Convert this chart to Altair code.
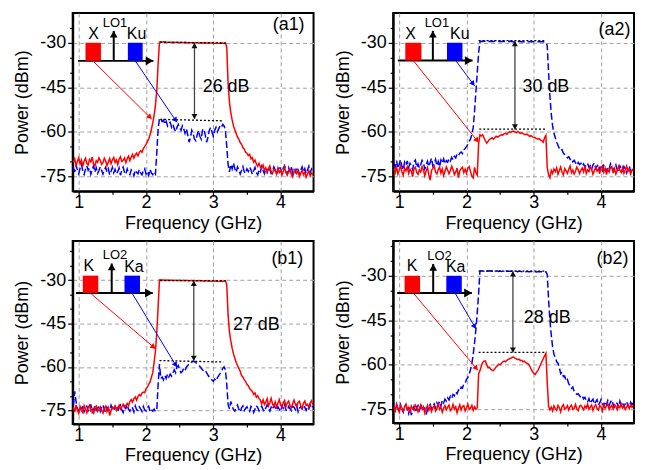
import math
import altair as alt
import pandas as pd

FONT = "Liberation Sans"
RED = "#ff0000"
BLUE = "#0000ff"

freq = [
    0.92, 0.94, 0.96, 0.98, 1.00, 1.02, 1.04, 1.06, 1.08, 1.10,
    1.12, 1.14, 1.16, 1.18, 1.20, 1.22, 1.24, 1.26, 1.28, 1.30,
    1.32, 1.34, 1.36, 1.38, 1.40, 1.42, 1.44, 1.46, 1.48, 1.50,
    1.52, 1.54, 1.56, 1.58, 1.60, 1.62, 1.64, 1.66, 1.68, 1.70,
    1.72, 1.74, 1.76, 1.78, 1.80, 1.82, 1.84, 1.86, 1.88, 1.90,
    1.92, 1.94, 1.96, 1.98, 2.00, 2.02, 2.04, 2.06, 2.08, 2.10,
    2.12, 2.14, 2.16, 2.18, 2.20, 2.22, 2.24, 2.26, 2.28, 2.30,
    2.32, 2.34, 2.36, 2.38, 2.40, 2.42, 2.44, 2.46, 2.48, 2.50,
    2.52, 2.54, 2.56, 2.58, 2.60, 2.62, 2.64, 2.66, 2.68, 2.70,
    2.72, 2.74, 2.76, 2.78, 2.80, 2.82, 2.84, 2.86, 2.88, 2.90,
    2.92, 2.94, 2.96, 2.98, 3.00, 3.02, 3.04, 3.06, 3.08, 3.10,
    3.12, 3.14, 3.16, 3.18, 3.20, 3.22, 3.24, 3.26, 3.28, 3.30,
    3.32, 3.34, 3.36, 3.38, 3.40, 3.42, 3.44, 3.46, 3.48, 3.50,
    3.52, 3.54, 3.56, 3.58, 3.60, 3.62, 3.64, 3.66, 3.68, 3.70,
    3.72, 3.74, 3.76, 3.78, 3.80, 3.82, 3.84, 3.86, 3.88, 3.90,
    3.92, 3.94, 3.96, 3.98, 4.00, 4.02, 4.04, 4.06, 4.08, 4.10,
    4.12, 4.14, 4.16, 4.18, 4.20, 4.22, 4.24, 4.26, 4.28, 4.30,
    4.32, 4.34, 4.36, 4.38, 4.40, 4.42, 4.44, 4.46, 4.48,
]

a1_red = [
    -70.2, -69.1, -71.3, -70.0, -68.7, -70.8, -69.5, -71.6, -69.9, -68.9,
    -70.6, -71.2, -69.3, -70.1, -68.5, -70.9, -71.5, -69.7, -70.3, -68.8,
    -69.6, -71.0, -70.4, -68.9, -69.8, -71.4, -70.2, -69.0, -70.7, -69.4,
    -68.6, -70.3, -69.5, -71.1, -69.2, -68.4, -70.0, -69.6, -68.8, -70.4,
    -69.0, -68.2, -69.7, -68.5, -67.6, -68.9, -67.8, -67.2, -68.1, -66.9,
    -66.4, -66.9, -65.6, -65.0, -64.2, -63.3, -62.4, -61.0, -59.2, -57.0,
    -54.5, -51.0, -46.0, -37.0, -29.8, -29.7, -29.8, -29.7, -29.8, -29.8,
    -29.8, -29.9, -29.8, -29.8, -29.9, -29.8, -29.9, -29.9, -29.8, -29.9,
    -29.9, -29.9, -30.0, -29.9, -29.9, -30.0, -29.9, -30.0, -30.0, -29.9,
    -30.0, -30.0, -30.0, -30.1, -30.0, -30.0, -30.1, -30.0, -30.1, -30.1,
    -30.1, -30.0, -30.1, -30.1, -30.1, -30.2, -30.1, -30.1, -30.2, -30.1,
    -30.2, -30.1, -30.2, -30.0, -31.5, -44.0, -50.0, -53.5, -56.0, -58.0,
    -59.3, -60.6, -61.8, -62.5, -63.6, -64.2, -65.3, -65.8, -66.9, -67.2,
    -68.0, -67.6, -69.1, -68.7, -70.2, -69.5, -70.8, -71.6, -70.6, -71.9,
    -72.3, -71.2, -73.0, -72.1, -73.6, -72.4, -71.5, -73.3, -74.0, -72.6,
    -73.1, -74.2, -72.2, -73.7, -72.9, -74.5, -73.4, -71.9, -73.8, -74.6,
    -73.0, -72.4, -74.3, -75.2, -73.5, -72.8, -74.1, -73.2, -75.0, -74.0,
    -72.9, -74.4, -73.6, -75.3, -74.2, -73.1, -74.8, -73.9, -74.5,
]

a1_blue = [
    -72.0, -73.5, -71.2, -72.8, -74.1, -72.3, -71.0, -73.2, -74.4, -72.6,
    -71.5, -73.0, -72.2, -74.3, -72.8, -71.4, -73.6, -72.1, -74.0, -73.1,
    -71.8, -72.9, -74.2, -73.0, -71.9, -73.5, -72.4, -74.5, -73.3, -72.0,
    -73.8, -72.6, -74.1, -73.4, -72.2, -74.6, -73.0, -71.9, -73.7, -74.3,
    -72.5, -73.9, -74.4, -72.8, -73.4, -74.8, -72.9, -73.6, -74.1, -72.7,
    -73.8, -74.5, -73.1, -72.4, -74.2, -73.3, -74.7, -72.6, -73.9, -74.4,
    -73.4, -74.2, -67.0, -59.0, -55.5, -55.8, -56.5, -56.0, -57.5, -56.5,
    -58.0, -57.0, -56.8, -58.5, -57.5, -59.0, -60.0, -58.5, -57.5, -58.5,
    -59.5, -58.0, -59.0, -60.5, -59.0, -61.0, -63.5, -62.0, -59.5, -60.5,
    -62.5, -63.0, -61.0, -59.5, -61.5, -62.5, -59.5, -59.0, -61.0, -63.5,
    -62.0, -59.5, -58.5, -60.0, -61.5, -59.5, -58.5, -60.0, -59.0, -58.0,
    -58.5, -57.5, -58.0, -59.5, -65.0, -71.0, -73.5, -71.0, -72.5, -70.5,
    -72.4, -73.6, -71.8, -72.9, -74.2, -73.0, -71.7, -73.4, -74.0, -72.5,
    -73.3, -71.9, -72.8, -74.3, -73.1, -72.0, -73.8, -74.5, -72.7, -73.4,
    -71.6, -73.0, -74.1, -72.4, -73.6, -71.9, -72.8, -74.0, -73.2, -71.8,
    -72.9, -74.2, -73.1, -71.5, -72.6, -73.9, -72.2, -71.4, -73.5, -74.3,
    -72.1, -73.4, -71.7, -74.0, -72.8, -73.6, -71.9, -72.7, -74.2, -73.0,
    -71.8, -73.5, -72.4, -74.1, -72.9, -71.6, -73.8, -72.5, -73.3,
]

a2_red = [
    -72.5, -73.8, -71.6, -74.2, -72.9, -71.4, -73.5, -74.6, -72.2, -73.1,
    -71.8, -74.0, -72.6, -73.3, -75.1, -72.4, -71.9, -73.7, -74.3, -72.8,
    -73.5, -71.7, -72.9, -74.8, -73.2, -72.0, -74.5, -76.3, -73.0, -72.3,
    -71.5, -73.6, -74.2, -72.7, -71.9, -73.9, -72.5, -74.7, -73.3, -71.8,
    -72.9, -74.1, -73.0, -71.6, -72.8, -74.4, -73.5, -72.2, -75.4, -73.1,
    -72.4, -71.9, -73.7, -72.6, -74.0, -72.3, -71.7, -73.4, -74.9, -75.5,
    -72.0, -73.8, -74.6, -64.0, -61.0, -61.4, -61.0, -62.0, -63.0, -63.8,
    -63.2, -62.6, -62.3, -62.0, -62.5, -62.0, -61.5, -61.8, -61.5, -61.2,
    -61.0, -61.1, -60.6, -60.5, -60.8, -60.3, -60.0, -60.2, -59.8, -59.8,
    -60.0, -60.3, -59.9, -60.2, -60.5, -60.3, -60.6, -60.8, -61.0, -60.8,
    -61.2, -61.5, -61.3, -61.7, -61.8, -62.0, -62.3, -62.5, -62.3, -62.8,
    -63.0, -63.5, -62.0, -61.2, -72.0, -74.5, -75.5, -73.0, -74.0, -72.5,
    -73.4, -72.1, -74.3, -73.0, -71.8, -73.6, -74.5, -72.4, -73.1, -74.0,
    -72.6, -71.5, -73.8, -72.9, -74.2, -73.3, -71.9, -72.7, -74.1, -73.0,
    -72.2, -73.5, -71.6, -74.0, -72.8, -73.4, -71.8, -72.6, -74.3, -73.1,
    -71.9, -73.2, -72.5, -74.1, -72.0, -71.4, -73.6, -72.3, -74.4, -72.8,
    -73.5, -72.0, -71.7, -73.9, -72.4, -74.2, -73.0, -71.6, -72.9, -73.7,
    -72.1, -74.0, -72.8, -71.5, -73.3, -72.6, -74.2, -73.0, -72.4,
]

a2_blue = [
    -70.5, -71.8, -69.7, -72.3, -70.9, -69.4, -71.6, -72.8, -70.2, -71.3,
    -69.8, -72.0, -70.6, -71.4, -72.7, -70.1, -69.5, -71.9, -70.8, -72.2,
    -71.0, -69.6, -70.4, -72.5, -71.2, -69.9, -71.7, -70.3, -68.9, -71.5,
    -70.7, -69.3, -71.4, -70.0, -71.8, -69.5, -70.5, -69.1, -70.8, -69.7,
    -70.2, -69.0, -69.8, -68.6, -69.4, -68.2, -68.8, -67.5, -68.0, -67.2,
    -66.8, -67.3, -66.0, -65.6, -65.0, -64.2, -63.2, -62.4, -60.8, -58.5,
    -53.0, -46.5, -40.0, -33.5, -29.6, -29.5, -29.6, -29.5, -29.5, -29.6,
    -29.5, -29.6, -29.5, -29.6, -29.6, -29.5, -29.6, -29.6, -29.5, -29.6,
    -29.6, -29.6, -29.5, -29.6, -29.6, -29.6, -29.5, -29.6, -29.6, -29.7,
    -29.6, -29.6, -29.7, -29.6, -29.6, -29.7, -29.6, -29.7, -29.6, -29.7,
    -29.7, -29.6, -29.7, -29.7, -29.6, -29.7, -29.7, -29.7, -29.6, -29.7,
    -29.7, -29.7, -29.7, -29.8, -31.0, -40.0, -48.0, -54.0, -58.0, -60.5,
    -62.0, -63.5, -64.5, -65.6, -66.3, -66.0, -67.2, -67.6, -68.1, -68.8,
    -68.4, -69.3, -69.0, -70.1, -69.6, -70.4, -71.2, -70.3, -71.0, -70.6,
    -71.5, -70.8, -71.9, -71.2, -70.6, -72.0, -71.4, -72.6, -71.1, -70.5,
    -72.3, -71.6, -70.9, -72.8, -71.7, -73.0, -71.3, -72.1, -73.4, -71.8,
    -72.5, -70.8, -71.9, -73.2, -72.0, -71.1, -72.9, -73.6, -71.5, -72.4,
    -73.1, -71.7, -72.6, -73.8, -72.2, -71.4, -73.3, -72.8, -73.5,
]

b1_red = [
    -74.0, -75.6, -73.2, -74.8, -76.1, -73.7, -74.9, -75.8, -73.4, -74.5,
    -75.9, -74.1, -73.3, -75.2, -74.6, -76.3, -74.0, -73.5, -75.4, -74.7,
    -73.8, -75.0, -76.0, -74.3, -73.6, -75.5, -74.2, -76.8, -75.1, -73.9,
    -74.4, -73.5, -75.0, -74.1, -73.2, -74.6, -73.8, -72.9, -74.0, -73.3,
    -72.6, -73.4, -72.0, -71.3, -72.2, -71.0, -70.4, -71.5, -70.2, -69.6,
    -70.0, -69.0, -68.7, -68.9, -67.5, -67.0, -66.0, -65.2, -63.6, -62.0,
    -58.5, -54.5, -48.0, -39.0, -29.9, -29.8, -29.9, -29.9, -30.0, -29.9,
    -30.0, -29.9, -30.0, -30.0, -30.0, -30.1, -30.0, -30.0, -30.1, -30.0,
    -30.1, -30.1, -30.0, -30.1, -30.1, -30.1, -30.2, -30.1, -30.1, -30.2,
    -30.1, -30.2, -30.2, -30.1, -30.2, -30.2, -30.2, -30.3, -30.2, -30.2,
    -30.3, -30.2, -30.3, -30.3, -30.2, -30.3, -30.3, -30.3, -30.4, -30.3,
    -30.3, -30.4, -30.3, -30.2, -31.5, -42.0, -48.0, -51.0, -53.5, -55.5,
    -57.0, -58.5, -59.5, -60.5, -61.5, -63.0, -63.5, -64.5, -65.0, -66.0,
    -66.5, -67.5, -68.0, -68.5, -69.5, -69.0, -70.5, -70.0, -71.0, -71.5,
    -72.8, -71.4, -73.0, -72.2, -71.0, -73.5, -72.4, -70.9, -72.8, -73.6,
    -72.1, -73.9, -72.6, -71.3, -73.2, -74.0, -72.3, -71.6, -73.7, -72.5,
    -71.8, -73.4, -74.1, -72.7, -71.5, -73.0, -73.8, -72.2, -71.9, -73.5,
    -74.2, -72.6, -71.8, -73.3, -72.9, -74.0, -72.4, -71.7, -73.1,
]

b1_blue = [
    -73.5, -68.5, -72.0, -74.6, -75.3, -73.8, -74.9, -73.2, -75.5, -74.1,
    -73.6, -75.2, -74.4, -73.0, -75.6, -74.7, -73.4, -75.0, -74.3, -73.7,
    -75.4, -74.0, -73.1, -74.8, -75.7, -73.9, -74.5, -75.1, -73.3, -74.6,
    -75.2, -73.7, -74.3, -75.5, -74.0, -73.2, -74.9, -75.8, -73.6, -74.4,
    -73.1, -74.7, -75.3, -73.9, -74.2, -75.6, -73.5, -74.8, -75.0, -73.8,
    -74.5, -75.4, -73.7, -74.9, -75.2, -74.1, -73.6, -75.5, -74.8, -75.3,
    -74.6, -75.4, -75.0, -66.0, -59.0, -64.0, -63.5, -64.5, -63.0, -64.0,
    -62.5, -63.5, -62.5, -63.2, -62.0, -61.0, -62.0, -60.0, -59.5, -61.0,
    -62.0, -61.5, -60.5, -61.2, -60.0, -59.5, -59.0, -58.8, -58.3, -58.0,
    -58.2, -58.5, -59.0, -59.3, -59.8, -60.5, -61.0, -61.5, -61.2, -62.0,
    -62.8, -63.5, -64.0, -64.5, -65.0, -64.2, -64.8, -63.8, -63.0, -62.3,
    -61.5, -60.5, -60.0, -61.0, -66.0, -73.0, -74.5, -72.0, -73.5, -74.8,
    -75.3, -74.0, -73.2, -74.7, -75.6, -74.2, -73.5, -75.1, -74.4, -73.8,
    -74.9, -75.4, -73.7, -74.3, -75.8, -74.6, -73.4, -74.1, -75.2, -74.0,
    -73.6, -74.8, -75.5, -74.2, -73.1, -74.5, -75.3, -73.9, -74.7, -73.3,
    -74.1, -75.0, -73.8, -74.6, -75.4, -73.5, -74.3, -73.0, -74.9, -75.2,
    -73.7, -74.4, -75.1, -73.6, -74.0, -74.8, -73.4, -75.5, -74.2, -73.9,
    -74.6, -73.2, -74.0, -75.0, -73.8, -74.5, -73.1, -74.3, -73.6,
]

b2_red = [
    -74.2, -75.5, -73.4, -74.9, -76.0, -73.8, -74.6, -75.7, -74.0, -73.3,
    -75.2, -74.4, -76.1, -73.9, -74.8, -75.4, -73.6, -74.3, -75.9, -74.7,
    -73.5, -75.0, -74.2, -76.3, -74.9, -73.7, -75.3, -74.1, -75.8, -74.5,
    -73.9, -75.6, -74.8, -73.2, -75.1, -74.4, -76.0, -74.6, -73.8, -75.2,
    -74.3, -73.6, -75.5, -74.9, -73.4, -75.0, -74.2, -76.2, -74.7, -73.5,
    -75.3, -74.1, -73.8, -75.6, -74.5, -73.3, -75.1, -74.6, -73.7, -75.4,
    -74.2, -75.0, -74.5, -63.0, -62.0, -60.5, -59.2, -58.8, -58.7, -60.0,
    -61.0, -60.8, -61.5, -61.8, -62.0, -61.4, -60.8, -60.3, -59.8, -60.0,
    -59.5, -59.0, -58.8, -59.0, -58.5, -58.2, -58.0, -57.8, -57.5, -57.4,
    -57.8, -58.0, -58.3, -58.1, -58.6, -58.5, -59.0, -58.8, -59.3, -59.5,
    -59.8, -60.5, -61.5, -62.3, -62.9, -63.3, -62.6, -62.0, -61.0, -60.0,
    -59.0, -58.0, -57.0, -56.2, -66.0, -74.0, -75.2, -74.3, -75.6, -73.9,
    -74.8, -75.4, -73.7, -74.5, -75.9, -74.1, -73.5, -75.0, -74.6, -73.8,
    -75.3, -74.2, -73.6, -75.1, -74.7, -73.4, -74.9, -75.5, -74.0, -73.7,
    -74.4, -75.2, -73.9, -74.6, -73.3, -75.0, -74.3, -73.6, -75.4, -74.1,
    -73.5, -74.8, -75.3, -73.8, -74.2, -75.6, -73.4, -74.7, -74.0, -73.2,
    -75.1, -74.3, -73.7, -74.9, -73.5, -74.0, -75.2, -73.8, -74.5, -73.3,
    -74.6, -73.9, -75.0, -74.2, -73.4, -74.8, -73.6, -74.4, -73.8,
]

b2_blue = [
    -74.0, -75.3, -73.2, -74.6, -75.8, -73.5, -74.9, -76.0, -74.3, -73.6,
    -75.2, -76.5, -74.4, -77.0, -75.6, -74.1, -75.9, -74.7, -73.8, -75.4,
    -74.2, -73.5, -75.0, -74.6, -76.8, -75.3, -74.0, -73.4, -74.8, -73.9,
    -73.2, -74.5, -72.8, -73.6, -72.4, -73.9, -72.1, -72.9, -71.6, -72.3,
    -71.2, -71.9, -70.6, -71.3, -70.0, -70.5, -69.2, -69.8, -68.5, -68.9,
    -67.6, -67.9, -66.5, -66.2, -65.0, -64.3, -63.2, -61.6, -59.5, -56.5,
    -52.5, -48.0, -42.5, -36.0, -28.4, -28.3, -28.4, -28.3, -28.4, -28.4,
    -28.4, -28.3, -28.4, -28.4, -28.4, -28.5, -28.4, -28.4, -28.5, -28.4,
    -28.5, -28.4, -28.5, -28.5, -28.4, -28.5, -28.5, -28.5, -28.4, -28.5,
    -28.5, -28.5, -28.6, -28.5, -28.5, -28.6, -28.5, -28.6, -28.6, -28.5,
    -28.6, -28.6, -28.5, -28.6, -28.6, -28.6, -28.7, -28.6, -28.6, -28.6,
    -28.6, -28.7, -28.6, -28.7, -29.5, -38.0, -45.0, -50.0, -54.0, -56.5,
    -57.5, -59.0, -59.5, -61.0, -63.0, -62.5, -64.0, -63.8, -65.5, -65.0,
    -66.5, -67.0, -68.0, -67.5, -69.0, -69.5, -70.0, -69.8, -70.5, -71.0,
    -70.5, -71.5, -71.0, -72.0, -72.6, -71.4, -73.0, -72.2, -71.6, -73.3,
    -72.5, -71.8, -73.6, -72.9, -71.7, -73.1, -74.0, -72.4, -73.5, -72.1,
    -73.8, -72.6, -71.9, -73.4, -74.2, -72.8, -73.0, -74.5, -72.3, -73.7,
    -72.9, -74.1, -73.2, -72.4, -73.9, -74.6, -72.7, -73.5, -72.2,
]

XDOM = [0.91, 4.49]
XTICKS = [1, 1.5, 2, 2.5, 3, 3.5, 4]
YTICKS = [-80, -75, -70, -65, -60, -55, -50, -45, -40, -35, -30, -25, -20]
W = 242

panels = {
    "a1": dict(
        ydom=[-80, -20], h=179, red=a1_red, blue=a1_blue,
        axis_arrow=[0.99, 2.11, -36.1],
        red_box=[1.10, 1.33, -30.0, -36.1],
        blue_box=[1.73, 1.95, -30.0, -36.1],
        lo=[1.52, -36.1, -26.0],
        labels=[("X", 1.22, -26.9, 16), ("LO1", 1.54, -23.4, 13), ("Ku", 1.86, -26.9, 16)],
        red_ptr=[1.21, -36.1, 2.085, -55.7],
        blue_ptr=[1.84, -36.1, 2.46, -56.8],
        dots=[[2.21, -29.8, 3.18, -30.1], [2.21, -55.8, 3.15, -56.3]],
        gap=[2.72, -30.1, -55.7],
        gap_text=["26 dB", 3.19, -45.0],
        tag=["(a1)", 4.12, -24.0],
    ),
    "a2": dict(
        ydom=[-80, -20], h=179, red=a2_red, blue=a2_blue,
        axis_arrow=[0.98, 2.09, -36.0],
        red_box=[1.09, 1.33, -30.0, -36.0],
        blue_box=[1.71, 1.94, -30.0, -36.0],
        lo=[1.50, -36.0, -26.0],
        labels=[("X", 1.17, -26.9, 16), ("LO1", 1.56, -23.4, 13), ("Ku", 1.90, -26.9, 16)],
        red_ptr=[1.21, -36.0, 2.18, -63.6],
        blue_ptr=[1.84, -36.0, 2.12, -44.5],
        dots=[[2.18, -29.3, 3.17, -29.3], [2.19, -59.1, 3.17, -59.1]],
        gap=[2.72, -29.4, -59.2],
        gap_text=["30 dB", 3.18, -45.0],
        tag=["(a2)", 4.2, -25.6],
    ),
    "b1": dict(
        ydom=[-79.8, -16.4], h=184, red=b1_red, blue=b1_blue,
        axis_arrow=[0.96, 2.10, -34.4],
        red_box=[1.06, 1.29, -28.4, -34.4],
        blue_box=[1.68, 1.91, -28.4, -34.4],
        lo=[1.49, -34.4, -24.2],
        labels=[("K", 1.15, -25.2, 16), ("LO2", 1.54, -21.4, 13), ("Ka", 1.82, -25.4, 16)],
        red_ptr=[1.17, -34.4, 2.14, -53.7],
        blue_ptr=[1.79, -34.4, 2.46, -60.1],
        dots=[[2.21, -30.1, 3.18, -30.1], [2.20, -57.8, 3.15, -58.3]],
        gap=[2.71, -30.2, -57.9],
        gap_text=["27 dB", 3.64, -45.4],
        tag=["(b1)", 4.1, -22.6],
    ),
    "b2": dict(
        ydom=[-79.7, -18.25], h=183, red=b2_red, blue=b2_blue,
        axis_arrow=[0.97, 2.08, -35.8],
        red_box=[1.08, 1.31, -30.0, -35.8],
        blue_box=[1.70, 1.93, -30.0, -35.8],
        lo=[1.505, -35.8, -26.0],
        labels=[("K", 1.19, -26.8, 16), ("LO2", 1.6, -23.3, 13), ("Ka", 1.84, -27.0, 16)],
        red_ptr=[1.21, -35.8, 2.17, -61.9],
        blue_ptr=[1.83, -35.8, 2.14, -47.9],
        dots=[[2.18, -28.4, 3.19, -28.4], [2.18, -55.8, 3.19, -55.8]],
        gap=[2.69, -28.5, -55.9],
        gap_text=["28 dB", 3.2, -44.3],
        tag=["(b2)", 4.17, -24.4],
    ),
}


def build(p):
    xs = alt.Scale(domain=XDOM, nice=False, zero=False)
    ys = alt.Scale(domain=p["ydom"], nice=False, zero=False)
    kx = W / (XDOM[1] - XDOM[0])
    ky = p["h"] / (p["ydom"][1] - p["ydom"][0])
    yvals = [v for v in YTICKS if p["ydom"][0] + 1 <= v <= p["ydom"][1] - 1]
    xax = alt.Axis(
        values=XTICKS, title="Frequency (GHz)",
        labelExpr="datum.value % 1 === 0 ? '' + datum.value : ''",
        tickSize={"condition": {"test": "datum.value % 1 === 0", "value": 5}, "value": 3},
        gridOpacity={"condition": {"test": "datum.value % 1 === 0", "value": 1}, "value": 0},
    )
    yax = alt.Axis(
        values=yvals, title="Power (dBm)",
        labelExpr="datum.value % 15 === 0 ? '-' + abs(datum.value) : ''",
        tickSize={"condition": {"test": "datum.value % 15 === 0", "value": 5}, "value": 3},
        gridOpacity={"condition": {"test": "datum.value % 15 === 0", "value": 1}, "value": 0},
    )

    def X(f):
        return alt.X(f, type="quantitative", scale=xs, axis=xax)

    def Y(f):
        return alt.Y(f, type="quantitative", scale=ys, axis=yax)

    tr = pd.DataFrame({"f": freq, "red": p["red"], "blue": p["blue"]})
    blue = alt.Chart(tr).mark_line(color=BLUE, strokeWidth=1.5, strokeDash=[7, 3]).encode(x=X("f"), y=Y("blue"))
    red = alt.Chart(tr).mark_line(color=RED, strokeWidth=1.5).encode(x=X("f"), y=Y("red"))

    ax0, ax1, ay = p["axis_arrow"]
    lx, ly0, ly1 = p["lo"]
    rp = p["red_ptr"]
    bp = p["blue_ptr"]
    gx, gy0, gy1 = p["gap"]
    rules = pd.DataFrame([
        dict(x=ax0, y=ay, x2=ax1, y2=ay, c="black", w=2.0),
        dict(x=lx, y=ly0, x2=lx, y2=ly1, c="black", w=2.0),
        dict(x=rp[0], y=rp[1], x2=rp[2], y2=rp[3], c=RED, w=1.0),
        dict(x=bp[0], y=bp[1], x2=bp[2], y2=bp[3], c=BLUE, w=1.0),
        dict(x=gx, y=gy0, x2=gx, y2=gy1, c="#444444", w=1.3),
    ])
    rule_l = alt.Chart(rules).mark_rule().encode(
        x=X("x"), y=Y("y"), x2="x2:Q", y2="y2:Q",
        color=alt.Color("c:N", scale=None), strokeWidth=alt.StrokeWidth("w:Q", scale=None),
    )
    dots = pd.DataFrame([dict(x=d[0], y=d[1], x2=d[2], y2=d[3]) for d in p["dots"]])
    dot_l = alt.Chart(dots).mark_rule(color="black", strokeWidth=1.3, strokeDash=[2, 2]).encode(
        x=X("x"), y=Y("y"), x2="x2:Q", y2="y2:Q"
    )
    boxes = pd.DataFrame([
        dict(x=p["red_box"][0], x2=p["red_box"][1], y=p["red_box"][2], y2=p["red_box"][3], c=RED),
        dict(x=p["blue_box"][0], x2=p["blue_box"][1], y=p["blue_box"][2], y2=p["blue_box"][3], c=BLUE),
    ])
    box_l = alt.Chart(boxes).mark_rect().encode(
        x=X("x"), x2="x2:Q", y=Y("y"), y2="y2:Q", color=alt.Color("c:N", scale=None)
    )

    def head(x0, y0, x1, y1, size, color):
        dxp = (x1 - x0) * kx
        dyp = -(y1 - y0) * ky
        L = math.hypot(dxp, dyp)
        ux, uy = dxp / L, dyp / L
        h = 0.866 * math.sqrt(size) / 2
        return dict(
            x=x1 - h * ux / kx, y=y1 + h * uy / ky,
            ang=math.degrees(math.atan2(ux, -uy)) % 360, s=size, c=color,
        )

    heads = pd.DataFrame([
        head(ax0, ay, ax1, ay, 80, "black"),
        head(lx, ly0, lx, ly1, 60, "black"),
        head(rp[0], rp[1], rp[2], rp[3], 36, RED),
        head(bp[0], bp[1], bp[2], bp[3], 36, BLUE),
        head(gx, gy1, gx, gy0, 36, "#111111"),
        head(gx, gy0, gx, gy1, 36, "#111111"),
    ])
    head_l = alt.Chart(heads).mark_point(shape="triangle-up", filled=True, opacity=1, strokeWidth=0).encode(
        x=X("x"), y=Y("y"), angle=alt.Angle("ang:Q", scale=None),
        size=alt.Size("s:Q", scale=None), color=alt.Color("c:N", scale=None),
    )
    texts = pd.DataFrame(
        [dict(t=t, x=x, y=y, fs=fs) for (t, x, y, fs) in p["labels"]]
        + [dict(t=p["gap_text"][0], x=p["gap_text"][1], y=p["gap_text"][2], fs=18),
           dict(t=p["tag"][0], x=p["tag"][1], y=p["tag"][2], fs=18)]
    )
    text_l = alt.Chart(texts).mark_text(font=FONT, color="black", align="center", baseline="middle").encode(
        x=X("x"), y=Y("y"), text="t:N", size=alt.Size("fs:Q", scale=None)
    )
    return alt.layer(blue, red, dot_l, rule_l, box_l, head_l, text_l).properties(width=W, height=p["h"])


chart = (
    alt.concat(
        build(panels["a1"]), build(panels["a2"]), build(panels["b1"]), build(panels["b2"]),
        columns=2, spacing={"row": 50, "column": 80}, bounds="flush",
    )
    .properties(padding={"left": 4, "top": 3, "right": 0, "bottom": 0})
    .configure_view(stroke="black", strokeWidth=2)
    .configure_axis(
        labelFont=FONT, labelFontSize=18, labelColor="black",
        titleFont=FONT, titleFontSize=18, titleFontWeight="normal", titleColor="black",
        domainColor="black", domainWidth=2, tickColor="black", tickWidth=1.2,
        gridColor="#a0a0a0", gridDash=[4, 3], gridWidth=1,
        labelPadding=2, labelFlush=False, labelOverlap=False,
    )
    .configure_axisX(labelPadding=-3, titlePadding=3)
    .configure_axisY(titlePadding=8)
)

chart.save("out.html", embed_options={"renderer": "svg", "actions": False})
